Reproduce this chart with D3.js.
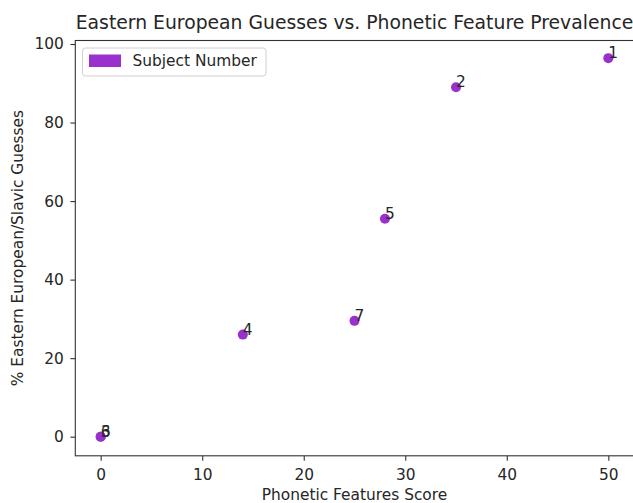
<!DOCTYPE html>
<html>
<head>
<meta charset="utf-8">
<script src="https://cdn.jsdelivr.net/npm/d3@7"></script>
<style>
  html, body { margin: 0; padding: 0; background: #fff; }
  svg { display: block; }
  text { font-family: "DejaVu Sans", sans-serif; fill: #262626; }
</style>
</head>
<body>
<script>
// ---- data ----
const subjects = ["1", "2", "3", "4", "5", "6", "7"];
const phoneticScores = [50, 35, 0, 14, 28, 0, 25];
const easternGuesses = [96.4, 89, 0, 26, 55.5, 0, 29.5];
const xTicks = [0, 10, 20, 30, 40, 50];
const yTicks = [0, 20, 40, 60, 80, 100];
const titleText = "Eastern European Guesses vs. Phonetic Feature Prevalence";
const xLabelText = "Phonetic Features Score";
const yLabelText = "% Eastern European/Slavic Guesses";
const legendLabel = "Subject Number";

const W = 633, H = 503;
const color = "#9932CC";
const fs = "15.4px";

const svg = d3.select("body").append("svg").attr("width", W).attr("height", H);

const xs = d3.scaleLinear().domain([-2.5, 52.5]).range([75.3, 633.7]);
const ys = d3.scaleLinear().domain([0, 100]).range([436.7, 44]);
const yMin = ys.invert(455.8), yMax = ys.invert(40.5);

// axes
const xAxis = d3.axisBottom(xs).tickValues(xTicks).tickSize(4.9).tickPadding(8.5);
const yAxis = d3.axisLeft(ys).tickValues(yTicks).tickSize(4.9).tickPadding(6.5);

const gx = svg.append("g").attr("transform", `translate(0,${ys(yMin)})`).call(xAxis);
const gy = svg.append("g").attr("transform", `translate(${xs(-2.5)},0)`).call(yAxis);
[gx, gy].forEach(g => {
  g.select(".domain").remove();
  g.selectAll("line").attr("stroke", "#333").attr("stroke-width", 1.1);
  g.selectAll("text").style("font-family", "DejaVu Sans").style("font-size", fs).attr("fill", "#262626");
});

// frame
svg.append("rect")
  .attr("x", xs(-2.5)).attr("y", ys(yMax))
  .attr("width", xs(52.5) - xs(-2.5)).attr("height", ys(yMin) - ys(yMax))
  .attr("fill", "none").attr("stroke", "#333").attr("stroke-width", 1.1);

// points
const data = subjects.map((s, i) => ({ s, x: phoneticScores[i], y: easternGuesses[i] }));
svg.append("g").selectAll("circle").data(data).join("circle")
  .attr("cx", d => xs(d.x)).attr("cy", d => ys(d.y)).attr("r", 5)
  .attr("fill", color);

svg.append("g").selectAll("text").data(data).join("text")
  .attr("x", d => xs(d.x)).attr("y", d => ys(d.y))
  .style("font-size", fs).attr("fill", "#222")
  .text(d => d.s);

// title
svg.append("text").attr("x", (xs(-2.5) + xs(52.5)) / 2).attr("y", 28.5)
  .attr("text-anchor", "middle").style("font-size", "18.8px").text(titleText);

// axis labels
svg.append("text").attr("x", (xs(-2.5) + xs(52.5)) / 2).attr("y", 500)
  .attr("text-anchor", "middle").style("font-size", fs).text(xLabelText);
svg.append("text")
  .attr("transform", `translate(22.5,${(ys(yMin) + ys(yMax)) / 2}) rotate(-90)`)
  .attr("text-anchor", "middle").style("font-size", fs).text(yLabelText);

// legend
const lg = svg.append("g");
lg.append("rect").attr("x", 82.5).attr("y", 48).attr("width", 183.5).attr("height", 28)
  .attr("rx", 3).attr("fill", "#fff").attr("fill-opacity", 0.8)
  .attr("stroke", "#d0d0d0").attr("stroke-width", 1);
lg.append("rect").attr("x", 89).attr("y", 54.5).attr("width", 32).attr("height", 12.5)
  .attr("fill", color);
lg.append("text").attr("x", 132.5).attr("y", 66).style("font-size", fs).text(legendLabel);
</script>
</body>
</html>
